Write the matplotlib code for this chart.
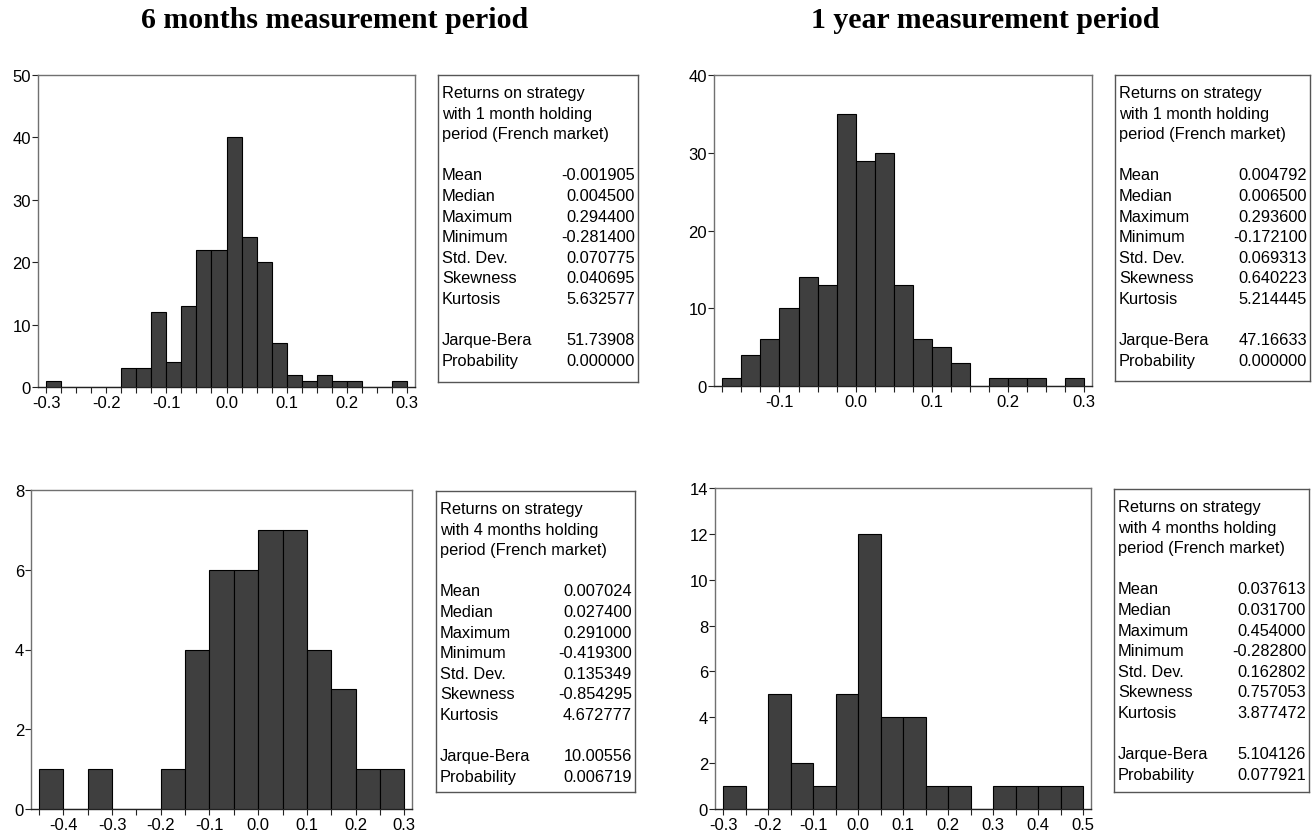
import numpy as np
import matplotlib
matplotlib.use("Agg")
import matplotlib.pyplot as plt

plt.rcParams['font.family'] = ['Liberation Sans', 'DejaVu Sans']

W, H = 1312, 837

# --- data ------------------------------------------------------------------
col_titles = ["6 months measurement period", "1 year measurement period"]

# histogram bin edges (lower edge of first bin, upper edge of last bin, width)
tl_range = (-0.300, 0.300, 0.025)
tr_range = (-0.175, 0.300, 0.025)
bl_range = (-0.450, 0.300, 0.050)
br_range = (-0.300, 0.500, 0.050)

tl_counts = [1, 0, 0, 0, 0, 3, 3, 12, 4, 13, 22, 22, 40, 24, 20, 7, 2, 1, 2, 1, 1, 0, 0, 1]
tr_counts = [1, 4, 6, 10, 14, 13, 35, 29, 30, 13, 6, 5, 3, 0, 1, 1, 1, 0, 1]
bl_counts = [1, 0, 1, 0, 0, 1, 4, 6, 6, 7, 7, 4, 3, 1, 1]
br_counts = [1, 0, 5, 2, 1, 5, 12, 4, 4, 1, 1, 0, 1, 1, 1, 1]

tl_yticks = [0, 10, 20, 30, 40, 50]
tr_yticks = [0, 10, 20, 30, 40]
bl_yticks = [0, 2, 4, 6, 8]
br_yticks = [0, 2, 4, 6, 8, 10, 12, 14]

tl_xlabels = [-0.3, -0.2, -0.1, 0.0, 0.1, 0.2, 0.3]
tr_xlabels = [-0.1, 0.0, 0.1, 0.2, 0.3]
bl_xlabels = [-0.4, -0.3, -0.2, -0.1, 0.0, 0.1, 0.2, 0.3]
br_xlabels = [-0.3, -0.2, -0.1, 0.0, 0.1, 0.2, 0.3, 0.4, 0.5]

stat_names = ["Mean", "Median", "Maximum", "Minimum", "Std. Dev.",
              "Skewness", "Kurtosis", None, "Jarque-Bera", "Probability"]
header_1m = ["Returns on strategy", "with 1 month holding", "period (French market)"]
header_4m = ["Returns on strategy", "with 4 months holding", "period (French market)"]

tl_stats = ["-0.001905", "0.004500", "0.294400", "-0.281400", "0.070775",
            "0.040695", "5.632577", None, "51.73908", "0.000000"]
tr_stats = ["0.004792", "0.006500", "0.293600", "-0.172100", "0.069313",
            "0.640223", "5.214445", None, "47.16633", "0.000000"]
bl_stats = ["0.007024", "0.027400", "0.291000", "-0.419300", "0.135349",
            "-0.854295", "4.672777", None, "10.00556", "0.006719"]
br_stats = ["0.037613", "0.031700", "0.454000", "-0.282800", "0.162802",
            "0.757053", "3.877472", None, "5.104126", "0.077921"]


def px_axes(fig, l, t, r, b):
    """add axes from pixel box (left, top, right, bottom)"""
    return fig.add_axes([l / W, 1 - b / H, (r - l) / W, (b - t) / H])


def histogram(ax, rng, counts, yticks, xlabels, xlim):
    lo, hi, w = rng
    edges = np.round(np.arange(lo, hi + w / 2, w), 3)
    ax.bar(edges[:-1], counts, width=w, align='edge',
           color='#3f3f3f', edgecolor='black', linewidth=0.8, zorder=3)
    ax.set_xlim(*xlim)
    ax.set_ylim(yticks[0], yticks[-1])
    ax.set_yticks(yticks)
    ax.set_xticks(edges)
    labs = []
    for e in edges:
        hit = [x for x in xlabels if abs(x - e) < 1e-6]
        labs.append(f"{hit[0]:.1f}" if hit else "")
    ax.set_xticklabels(labs)
    ax.tick_params(direction='out', length=4, width=0.8, color='#222222',
                   labelsize=12, pad=2)
    ax.tick_params(axis='y', pad=1)
    for s in ['top', 'right', 'left']:
        ax.spines[s].set_color('#707070')
        ax.spines[s].set_linewidth(1.0)
    ax.spines['bottom'].set_color('#222222')
    ax.spines['bottom'].set_linewidth(1.0)


def stats_box(ax, header, values):
    ax.set_xticks([])
    ax.set_yticks([])
    for s in ax.spines.values():
        s.set_color('#555555')
        s.set_linewidth(1.0)
    bbox = ax.get_position()
    hpx = bbox.height * H
    wpx = bbox.width * W
    lines = list(header) + [None] + list(zip(stat_names, values))
    step = 20.6
    y0 = 22
    fs = 11.8
    for i, ln in enumerate(lines):
        if ln is None:
            continue
        y = 1 - (y0 + i * step) / hpx
        if isinstance(ln, str):
            ax.text(4 / wpx, y, ln, transform=ax.transAxes, fontsize=fs,
                    ha='left', va='baseline')
        elif ln[0] is not None:
            ax.text(4 / wpx, y, ln[0], transform=ax.transAxes, fontsize=fs,
                    ha='left', va='baseline')
            ax.text(1 - 3 / wpx, y, ln[1], transform=ax.transAxes, fontsize=fs,
                    ha='right', va='baseline')


fig = plt.figure(figsize=(W / 100, H / 100), dpi=100)

ax_tl = px_axes(fig, 38, 76, 415, 388)
histogram(ax_tl, tl_range, tl_counts, tl_yticks, tl_xlabels, (-0.3133, 0.3133))
ax_tr = px_axes(fig, 714, 76, 1092, 387)
histogram(ax_tr, tr_range, tr_counts, tr_yticks, tr_xlabels, (-0.186, 0.3105))
ax_bl = px_axes(fig, 31, 491, 412, 810)
histogram(ax_bl, bl_range, bl_counts, bl_yticks, bl_xlabels, (-0.4664, 0.3157))
ax_br = px_axes(fig, 715, 489, 1091, 810)
histogram(ax_br, br_range, br_counts, br_yticks, br_xlabels, (-0.3178, 0.517))

stats_box(px_axes(fig, 438, 76, 638, 383), header_1m, tl_stats)
stats_box(px_axes(fig, 1115, 76, 1310, 382), header_1m, tr_stats)
stats_box(px_axes(fig, 436, 492, 635, 793), header_4m, bl_stats)
stats_box(px_axes(fig, 1114, 490, 1309, 793), header_4m, br_stats)

fig.text(335 / W, 1 - 21 / H, col_titles[0], ha='center', va='center',
         fontsize=21.5, fontweight='bold', family=['Liberation Serif'])
fig.text(985 / W, 1 - 21 / H, col_titles[1], ha='center', va='center',
         fontsize=21.5, fontweight='bold', family=['Liberation Serif'])

fig.savefig("out.png", dpi=100)
